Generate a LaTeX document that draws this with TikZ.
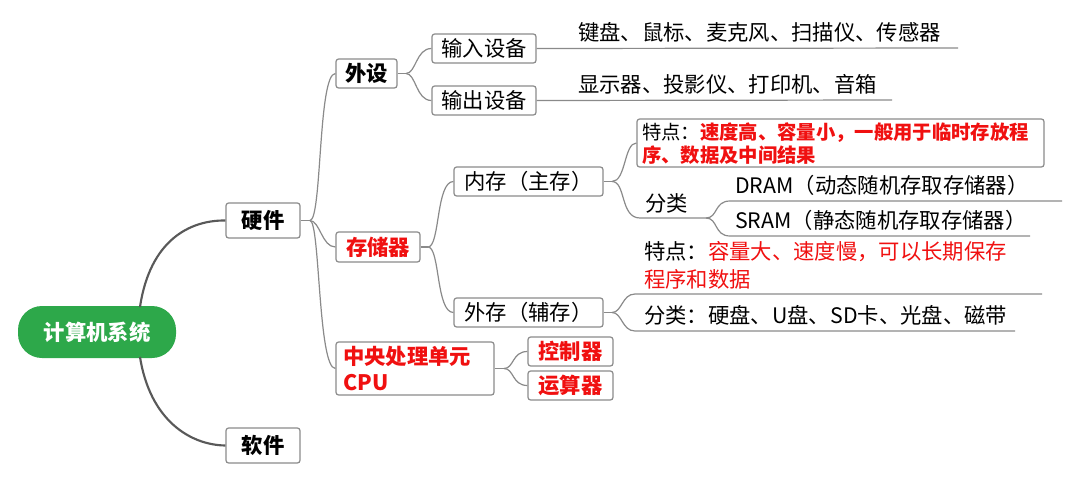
\documentclass[tikz,border=0pt]{standalone}
\usepackage{fontspec}
\setmainfont{Noto Sans CJK SC}
\usetikzlibrary{fit}
\definecolor{lc}{HTML}{8A8A8A}
\definecolor{rootg}{HTML}{2DA84A}
\definecolor{rd}{HTML}{F01010}
\begin{document}
\begin{tikzpicture}[x=0.75pt,y=-0.75pt,
  box/.style={draw=lc,line width=0.9pt,rounded corners=2pt,inner sep=0pt},
  txt/.style={font=\fontsize{16}{19}\selectfont,inner sep=0pt},
  btxt/.style={font=\fontsize{16}{19}\selectfont\bfseries,inner sep=0pt},
  conn/.style={draw=lc,line width=0.9pt},
  thick conn/.style={draw=black!65,line width=1.6pt}]
\useasboundingbox (0,0) rectangle (1080,482);
% root
\node[fill=rootg,rounded corners=18pt,minimum width=118.5pt,minimum height=39pt,inner sep=0pt] (root) at (97,332) {};
\node[btxt,text=white] (roott) at (root) {计算机系统};
% level 1
\node[box,fit={(226,203)(300,238)}] (yj) {};
\node[btxt] (yjt) at (yj) {硬件};
\node[box,fit={(226,428)(300,463)}] (rj) {};
\node[btxt] (rjt) at (rj) {软件};
\draw[thick conn] (140,307) .. controls (150,240) and (190,220) .. (yj.west);
\draw[thick conn] (140,357) .. controls (150,420) and (190,445) .. (rj.west);
% level 2
\node[box,fit={(336,59)(397,88)}] (ws) {};
\node[btxt] (wst) at (ws) {外设};
\node[box,fit={(336,232)(420,262)}] (ccq) {};
\node[btxt,text=rd] (ccqt) at (ccq) {存储器};
\node[box,fit={(336,342)(494,395)}] (cpu) {};
\node[btxt,text=rd,font=\fontsize{16}{20}\selectfont\bfseries,align=left,anchor=west] (cput) at (343,368.5) {中央处理单元\\CPU};
\draw[conn] (yj.east) -- (310,220.5) coordinate (h1);
\draw[conn] (h1) .. controls (322,220) and (318,73.5) .. (ws.west);
\draw[conn] (h1) .. controls (320,221) and (322,247) .. (ccq.west);
\draw[conn] (h1) .. controls (320,221) and (318,368.5) .. (cpu.west);
% 外设 children
\node[box,fit={(432,34)(536,63)}] (sr) {};
\node[txt] (srt) at (sr) {输入设备};
\node[box,fit={(432,86)(536,115)}] (sc) {};
\node[txt] (sct) at (sc) {输出设备};
\draw[conn] (ws.east) -- (406,73.5) coordinate (h2);
\draw[conn] (h2) .. controls (416,73.5) and (416,48.5) .. (sr.west);
\draw[conn] (h2) .. controls (416,73.5) and (416,100.5) .. (sc.west);
\coordinate (l1e) at (958,48);
\draw[conn] (sr.east) -- (l1e);
\node[txt,anchor=south west] (l1t) at (578,43) {键盘、鼠标、麦克风、扫描仪、传感器};
\coordinate (l2e) at (892,100);
\draw[conn] (sc.east) -- (l2e);
\node[txt,anchor=south west] (l2t) at (578,95) {显示器、投影仪、打印机、音箱};
% 存储器 children
\node[box,fit={(454,167)(603,196)}] (nc) {};
\node[txt] (nct) at (nc) {内存（主存）};
\node[box,fit={(454,298)(603,327)}] (wc) {};
\node[txt] (wct) at (wc) {外存（辅存）};
\draw[conn] (ccq.east) -- (428,247) coordinate (h3);
\draw[conn] (h3) .. controls (440,247) and (436,181.5) .. (nc.west);
\draw[conn] (h3) .. controls (440,247) and (436,312.5) .. (wc.west);
% CPU children
\node[box,fit={(528,337)(613,366)}] (kz) {};
\node[btxt,text=rd] (kzt) at (kz) {控制器};
\node[box,fit={(528,371)(613,400)}] (ys) {};
\node[btxt,text=rd] (yst) at (ys) {运算器};
\draw[conn] (cpu.east) -- (504,368.5) coordinate (h4);
\draw[conn] (h4) .. controls (514,368.5) and (512,351.5) .. (kz.west);
\draw[conn] (h4) .. controls (514,368.5) and (512,385.5) .. (ys.west);
% 内存 children
\node[box,fit={(637,119)(1044,167)}] (td1) {};
\node[txt,align=left,anchor=north west,font=\fontsize{14.5}{17.5}\selectfont] (td1t) at (642,122) {特点：\textcolor{rd}{\bfseries 速度高、容量小，一般用于临时存放程}\\\textcolor{rd}{\bfseries 序、数据及中间结果}};
\draw[conn] (nc.east) -- (612,181.5) coordinate (h5);
\draw[conn] (h5) .. controls (626,181.5) and (624,143) .. (td1.west);
\coordinate (fl1) at (706,218);
\draw[conn] (h5) .. controls (626,181.5) and (620,218) .. (640,218) -- (fl1);
\node[txt,anchor=south west] (fl1t) at (645,214) {分类};
\coordinate (dre) at (1062,201);
\coordinate (sre) at (1030,236);
\draw[conn] (fl1) .. controls (718,218) and (714,201) .. (730,201) -- (dre);
\draw[conn] (fl1) .. controls (718,218) and (714,236) .. (730,236) -- (sre);
\node[txt,anchor=south west] (drt) at (735,196) {DRAM（动态随机存取存储器）};
\node[txt,anchor=south west] (srt2) at (735,231) {SRAM（静态随机存取存储器）};
% 外存 children
\draw[conn] (wc.east) -- (612,312.5) coordinate (h6);
\coordinate (td2e) at (1042,294);
\coordinate (fl2e) at (1015,331);
\draw[conn] (h6) .. controls (622,312.5) and (622,294) .. (635,294) -- (td2e);
\draw[conn] (h6) .. controls (622,312.5) and (622,331) .. (635,331) -- (fl2e);
\node[txt,align=left,anchor=south west,font=\fontsize{16}{21}\selectfont] (td2t) at (644,290) {特点：\textcolor{rd}{容量大、速度慢，可以长期保存}\\\textcolor{rd}{程序和数据}};
\node[txt,anchor=south west] (fl2t) at (644,326) {分类：硬盘、U盘、SD卡、光盘、磁带};
\end{tikzpicture}
\end{document}
